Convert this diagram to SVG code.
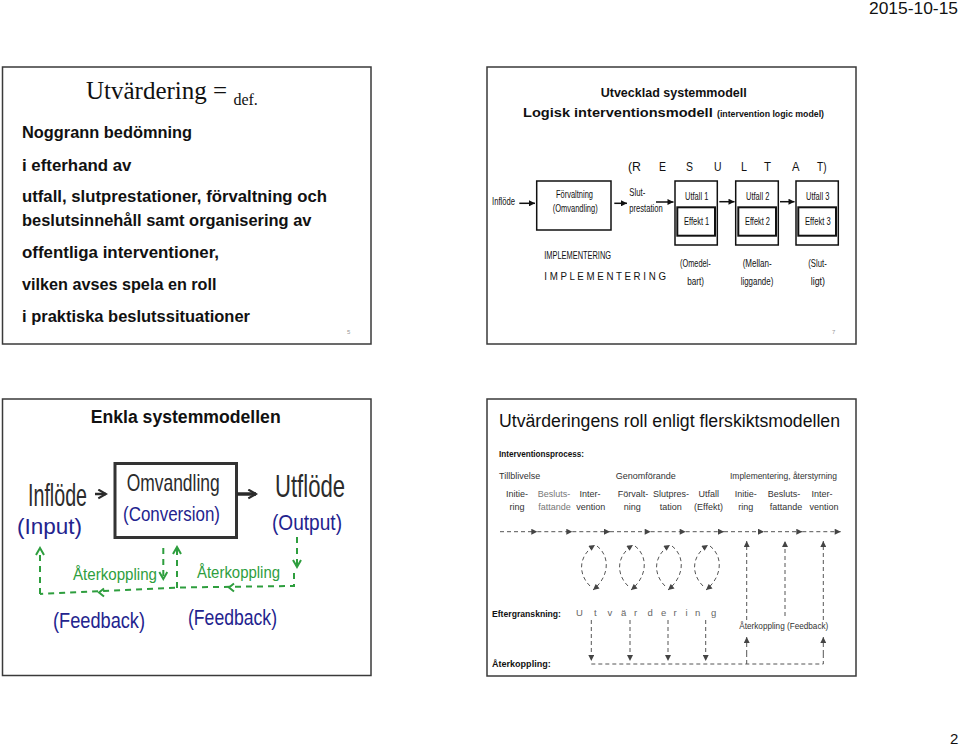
<svg xmlns="http://www.w3.org/2000/svg" width="960" height="746" viewBox="0 0 960 746">
<defs>
<marker id="ah" viewBox="0 0 10 10" refX="10" refY="5" markerWidth="7" markerHeight="6" markerUnits="userSpaceOnUse" orient="auto"><path d="M0,0 L10,5 L0,10 z" fill="#111"/></marker>
<marker id="ahg" viewBox="0 0 10 10" refX="10" refY="5" markerWidth="7" markerHeight="6" markerUnits="userSpaceOnUse" orient="auto"><path d="M0,0 L10,5 L0,10 z" fill="#444"/></marker>
<marker id="chg" viewBox="0 0 10 10" refX="8" refY="5" markerWidth="10" markerHeight="10" markerUnits="userSpaceOnUse" orient="auto"><path d="M1,1 L8,5 L1,9" fill="none" stroke="#2e9e3e" stroke-width="2"/></marker>
<marker id="chk" viewBox="0 0 10 10" refX="8" refY="5" markerWidth="11" markerHeight="11" markerUnits="userSpaceOnUse" orient="auto"><path d="M1,1 L8,5 L1,9" fill="none" stroke="#2b2b2b" stroke-width="2"/></marker>
</defs>
<style>
.frame{fill:#fff;stroke:#3a3a3a;stroke-width:1.5}
.t{font-family:"Liberation Sans",Arial,sans-serif;fill:#111}
.b{font-weight:bold}
.ser{font-family:"Liberation Serif","Times New Roman",serif;fill:#111}
.n{font-size:11px}
.c{text-anchor:middle}
.box{fill:#fff;stroke:#111;stroke-width:1.5}
.ibox{fill:#fff;stroke:#111;stroke-width:2}
.ar{stroke:#111;stroke-width:1.5;fill:none;marker-end:url(#ah)}
.gd{stroke:#555;stroke-width:1;stroke-dasharray:4 3;fill:none}
.gda{stroke:#555;stroke-width:1;stroke-dasharray:4 3;fill:none;marker-end:url(#ahg)}
.gr{stroke:#2e9e3e;stroke-width:2;stroke-dasharray:6 5;fill:none}
.gra{stroke:#2e9e3e;stroke-width:2;stroke-dasharray:6 5;fill:none;marker-end:url(#chg)}
.hw{font-family:"Liberation Sans",Arial,sans-serif;fill:#2b2b2b}
.blue{fill:#23238e}
.green{fill:#2e9e3e}
.s9{font-size:9px;fill:#333}
.light{fill:#777}
</style>
<rect x="0" y="0" width="960" height="746" fill="#fff"/>

<text class="t" x="869" y="14" font-size="16" textLength="89" lengthAdjust="spacingAndGlyphs">2015-10-15</text>
<text class="t" x="950" y="744" font-size="15">2</text>

<!-- Slide 1 -->
<g id="slide-definition">
<rect class="frame" x="2.5" y="67" width="368.5" height="277"/>
<text class="ser" x="86" y="98.5" font-size="25">Utvärdering = <tspan font-size="16" dy="6">def.</tspan></text>
<g class="t b" font-size="16.5">
<text x="22" y="138" textLength="170" lengthAdjust="spacingAndGlyphs">Noggrann bedömning</text>
<text x="22" y="171" textLength="109.5" lengthAdjust="spacingAndGlyphs">i efterhand av</text>
<text x="22" y="201.5" textLength="305" lengthAdjust="spacingAndGlyphs">utfall, slutprestationer, förvaltning och</text>
<text x="22" y="225.5" textLength="289.5" lengthAdjust="spacingAndGlyphs">beslutsinnehåll samt organisering av</text>
<text x="22" y="258" textLength="197" lengthAdjust="spacingAndGlyphs">offentliga interventioner,</text>
<text x="22" y="290" textLength="194.5" lengthAdjust="spacingAndGlyphs">vilken avses spela en roll</text>
<text x="22" y="321.5" textLength="228" lengthAdjust="spacingAndGlyphs">i praktiska beslutssituationer</text>
</g>
<text class="t" x="347" y="334" font-size="6" fill="#999" style="fill:#999">5</text>
</g>

<!-- Slide 2 -->
<g id="slide-logic-model">
<rect class="frame" x="487" y="67" width="369" height="277"/>
<text class="t b" x="600.7" y="96.5" font-size="12.5" textLength="146" lengthAdjust="spacingAndGlyphs">Utvecklad systemmodell</text>
<text class="t b" x="523" y="116.5" font-size="12.5" textLength="189.7" lengthAdjust="spacingAndGlyphs">Logisk interventionsmodell</text>
<text class="t b" x="717" y="116.5" font-size="9.5" textLength="107" lengthAdjust="spacingAndGlyphs">(intervention logic model)</text>
<g class="t" font-size="13">
<text x="628" y="171" textLength="13" lengthAdjust="spacingAndGlyphs">(R</text>
<text x="659" y="171" textLength="7" lengthAdjust="spacingAndGlyphs">E</text>
<text x="686" y="171" textLength="7" lengthAdjust="spacingAndGlyphs">S</text>
<text x="714" y="171" textLength="7.5" lengthAdjust="spacingAndGlyphs">U</text>
<text x="741" y="171" textLength="6" lengthAdjust="spacingAndGlyphs">L</text>
<text x="764" y="171" textLength="7" lengthAdjust="spacingAndGlyphs">T</text>
<text x="792" y="171" textLength="7.5" lengthAdjust="spacingAndGlyphs">A</text>
<text x="817" y="171" textLength="9.5" lengthAdjust="spacingAndGlyphs">T)</text>
</g>

<g id="n-inflode"><text class="t n" x="492" y="205" textLength="23" lengthAdjust="spacingAndGlyphs">Inflöde</text></g>
<g id="n-forvaltning">
<rect class="box" x="536.7" y="181" width="74.3" height="49"/>
<text class="t n" x="556" y="198" textLength="37" lengthAdjust="spacingAndGlyphs">Förvaltning</text>
<text class="t n" x="552.7" y="212" textLength="45" lengthAdjust="spacingAndGlyphs">(Omvandling)</text>
</g>
<g id="n-slutprestation">
<text class="t n" x="629.3" y="196" textLength="16" lengthAdjust="spacingAndGlyphs">Slut-</text>
<text class="t n" x="629.3" y="212" textLength="33.4" lengthAdjust="spacingAndGlyphs">prestation</text>
</g>
<g id="n-utfall1">
<rect class="box" x="675" y="181" width="42.3" height="64"/>
<text class="t n" x="685" y="199.5" textLength="23.3" lengthAdjust="spacingAndGlyphs">Utfall 1</text>
<rect class="ibox" x="677.3" y="207.3" width="37.7" height="28.4"/>
<text class="t n" x="684" y="224.5" textLength="25.3" lengthAdjust="spacingAndGlyphs">Effekt 1</text>
<text class="t n" x="680" y="267" textLength="30.7" lengthAdjust="spacingAndGlyphs">(Omedel-</text>
<text class="t n" x="687.3" y="284.5" textLength="16.7" lengthAdjust="spacingAndGlyphs">bart)</text>
</g>
<g id="n-utfall2">
<rect class="box" x="735.7" y="181" width="42.6" height="64"/>
<text class="t n" x="746" y="199.5" textLength="23.3" lengthAdjust="spacingAndGlyphs">Utfall 2</text>
<rect class="ibox" x="738.3" y="207.3" width="37.7" height="28.4"/>
<text class="t n" x="745" y="224.5" textLength="25" lengthAdjust="spacingAndGlyphs">Effekt 2</text>
<text class="t n" x="742.7" y="267" textLength="29" lengthAdjust="spacingAndGlyphs">(Mellan-</text>
<text class="t n" x="740.7" y="284.5" textLength="32.6" lengthAdjust="spacingAndGlyphs">liggande)</text>
</g>
<g id="n-utfall3">
<rect class="box" x="796" y="181" width="42.3" height="64"/>
<text class="t n" x="806" y="199.5" textLength="23.3" lengthAdjust="spacingAndGlyphs">Utfall 3</text>
<rect class="ibox" x="798.3" y="207.3" width="37.7" height="28.4"/>
<text class="t n" x="805" y="224.5" textLength="25.7" lengthAdjust="spacingAndGlyphs">Effekt 3</text>
<text class="t n" x="808.3" y="267" textLength="18.4" lengthAdjust="spacingAndGlyphs">(Slut-</text>
<text class="t n" x="810.7" y="284.5" textLength="14.3" lengthAdjust="spacingAndGlyphs">ligt)</text>
</g>
<g id="n-implementering">
<text class="t n" x="544.3" y="258.5" textLength="66.7" lengthAdjust="spacingAndGlyphs">IMPLEMENTERING</text>
<text class="t n" x="544.3" y="279.5" textLength="121.7" lengthAdjust="spacingAndGlyphs">I M P L E M E N T E R I N G</text>
</g>
<g id="connectors-logic">
<path class="ar" d="M519.3,203.3 H535"/>
<path class="ar" d="M614.3,203.3 H627"/>
<path class="ar" d="M656,202 H673.5"/>
<path class="ar" d="M719.3,201.7 H734.5"/>
<path class="ar" d="M780,201.7 H794.5"/>
</g>
<text class="t" x="832" y="334" font-size="6" style="fill:#999">7</text>
</g>

<!-- Slide 3 -->
<g id="slide-simple-model">
<rect class="frame" x="2.5" y="399" width="368.5" height="276.5"/>
<text class="t b" x="90.7" y="423" font-size="17.5" textLength="190" lengthAdjust="spacingAndGlyphs">Enkla systemmodellen</text>
<g id="h-inflode">
<text class="hw" x="28" y="506" font-size="32" textLength="59" lengthAdjust="spacingAndGlyphs">Inflöde</text>
<text class="hw blue" x="17" y="534" font-size="22" textLength="65" lengthAdjust="spacingAndGlyphs">(Input)</text>
</g>
<g id="h-omvandling">
<rect x="115" y="463.5" width="121.5" height="74" fill="none" stroke="#333" stroke-width="3"/>
<text class="hw" x="126.7" y="491" font-size="24" textLength="93" lengthAdjust="spacingAndGlyphs">Omvandling</text>
<text class="hw blue" x="123" y="521" font-size="21" textLength="97" lengthAdjust="spacingAndGlyphs">(Conversion)</text>
</g>
<g id="h-utflode">
<text class="hw" x="275" y="497" font-size="32" textLength="70" lengthAdjust="spacingAndGlyphs">Utflöde</text>
<text class="hw blue" x="272" y="530" font-size="22" textLength="70" lengthAdjust="spacingAndGlyphs">(Output)</text>
</g>
<g id="h-labels">
<text class="hw green" x="73" y="580" font-size="16" textLength="84" lengthAdjust="spacingAndGlyphs">Återkoppling</text>
<text class="hw green" x="197" y="578" font-size="16" textLength="83" lengthAdjust="spacingAndGlyphs">Återkoppling</text>
<text class="hw blue" x="53" y="628" font-size="22" textLength="92" lengthAdjust="spacingAndGlyphs">(Feedback)</text>
<text class="hw blue" x="188" y="625" font-size="22" textLength="89" lengthAdjust="spacingAndGlyphs">(Feedback)</text>
</g>
<g id="connectors-simple">
<path d="M95,494 H106" stroke="#2b2b2b" stroke-width="2.5" fill="none" marker-end="url(#chk)"/>
<path d="M237,494 H256" stroke="#2b2b2b" stroke-width="3.5" fill="none" marker-end="url(#chk)"/>
<path class="gra" d="M297,537 V567"/>
<path class="gr" d="M294,573 V586 L178,587.5 L40,594"/>
<path class="gra" d="M40,594 V548"/>
<path class="gra" d="M163.3,548 V579"/>
<path class="gra" d="M177,588 V547"/>
<path d="M104,588.5 L99,592.5 L104,596.5" fill="none" stroke="#2e9e3e" stroke-width="2"/>
<path d="M234,583.5 L229,587.5 L234,591.5" fill="none" stroke="#2e9e3e" stroke-width="2"/>
</g>
</g>

<!-- Slide 4 -->
<g id="slide-multilayer">
<rect class="frame" x="487" y="399" width="369" height="277"/>
<text class="t" x="499" y="427" font-size="18" textLength="341" lengthAdjust="spacingAndGlyphs">Utvärderingens roll enligt flerskiktsmodellen</text>
<text class="t b" x="499" y="456.5" font-size="8.5" textLength="85" lengthAdjust="spacingAndGlyphs">Interventionsprocess:</text>
<g class="t s9">
<text x="499" y="478.5" style="fill:#333">Tillblivelse</text>
<text x="615.7" y="478.5" style="fill:#333">Genomförande</text>
<text x="730" y="478.5" textLength="107" lengthAdjust="spacingAndGlyphs" style="fill:#333">Implementering, återstyrning</text>
</g>
<g class="t s9 c" id="phase-labels">
<text x="517" y="497" style="fill:#333">Initie-</text><text x="517" y="510" style="fill:#333">ring</text>
<text x="554" y="497" style="fill:#777">Besluts-</text><text x="554.5" y="510" style="fill:#777">fattande</text>
<text x="590" y="497" style="fill:#333">Inter-</text><text x="590.7" y="510" style="fill:#333">vention</text>
<text x="633" y="497" style="fill:#333">Förvalt-</text><text x="632.3" y="510" style="fill:#333">ning</text>
<text x="671" y="497" style="fill:#333">Slutpres-</text><text x="670.7" y="510" style="fill:#333">tation</text>
<text x="708.7" y="497" style="fill:#333">Utfall</text><text x="708.5" y="510" style="fill:#333">(Effekt)</text>
<text x="745.7" y="497" style="fill:#333">Initie-</text><text x="745.7" y="510" style="fill:#333">ring</text>
<text x="784" y="497" style="fill:#333">Besluts-</text><text x="786" y="510" style="fill:#333">fattande</text>
<text x="822" y="497" style="fill:#333">Inter-</text><text x="824" y="510" style="fill:#333">vention</text>
</g>
<text class="t b" x="492" y="617" font-size="8.5" textLength="69" lengthAdjust="spacingAndGlyphs">Eftergranskning:</text>
<text class="t b" x="492" y="667" font-size="8.5" textLength="58.7" lengthAdjust="spacingAndGlyphs">Återkoppling:</text>
<g class="t" font-size="9.5" style="fill:#666">
<text x="576" y="616">U</text><text x="594" y="616">t</text><text x="607.5" y="616">v</text><text x="621" y="616">ä</text><text x="634" y="616">r</text><text x="647.5" y="616">d</text><text x="661" y="616">e</text><text x="673.5" y="616">r</text><text x="685.5" y="616">i</text><text x="695" y="616">n</text><text x="711" y="616">g</text>
</g>
<text class="t" x="739.3" y="629" font-size="9" textLength="89" lengthAdjust="spacingAndGlyphs" style="fill:#333">Återkoppling (Feedback)</text>
<g id="connectors-multilayer">
<path class="gd" d="M500,531.7 H531"/>
<path class="gda" d="M531,531.7 H537.3"/>
<path class="gda" d="M537.3,531.7 H572.3"/>
<path class="gda" d="M572.3,531.7 H610"/>
<path class="gda" d="M610,531.7 H650.7"/>
<path class="gda" d="M650.7,531.7 H685.7"/>
<path class="gda" d="M685.7,531.7 H724"/>
<path class="gda" d="M724,531.7 H764"/>
<path class="gda" d="M764,531.7 H802.3"/>
<path class="gda" d="M802.3,531.7 H840.7"/>
<path class="gda" d="M590,586 C578,574 578,556 595,545"/>
<path class="gda" d="M597,546 C610,556 610,576 593,590"/>
<path class="gda" d="M628,586 C616,574 616,556 633,545"/>
<path class="gda" d="M635,546 C648,556 648,576 631,590"/>
<path class="gda" d="M665,586 C653,574 653,556 670,545"/>
<path class="gda" d="M672,546 C685,556 685,576 668,590"/>
<path class="gda" d="M703,586 C691,574 691,556 708,545"/>
<path class="gda" d="M710,546 C723,556 723,576 706,590"/>
<path class="gda" d="M591.3,620 V661"/>
<path class="gda" d="M630,620 V661"/>
<path class="gda" d="M668,620 V661"/>
<path class="gda" d="M705.7,620 V661"/>
<path class="gd" d="M591.3,664 H823.3 V654"/>
<path class="gd" d="M746.7,664 V654"/>
<path class="gda" d="M746.7,654 V637"/>
<path class="gda" d="M823.3,654 V637"/>
<path class="gda" d="M746.7,620 V541"/>
<path class="gda" d="M785,616 V541"/>
<path class="gda" d="M823.3,620 V541"/>
</g>
</g>
</svg>
